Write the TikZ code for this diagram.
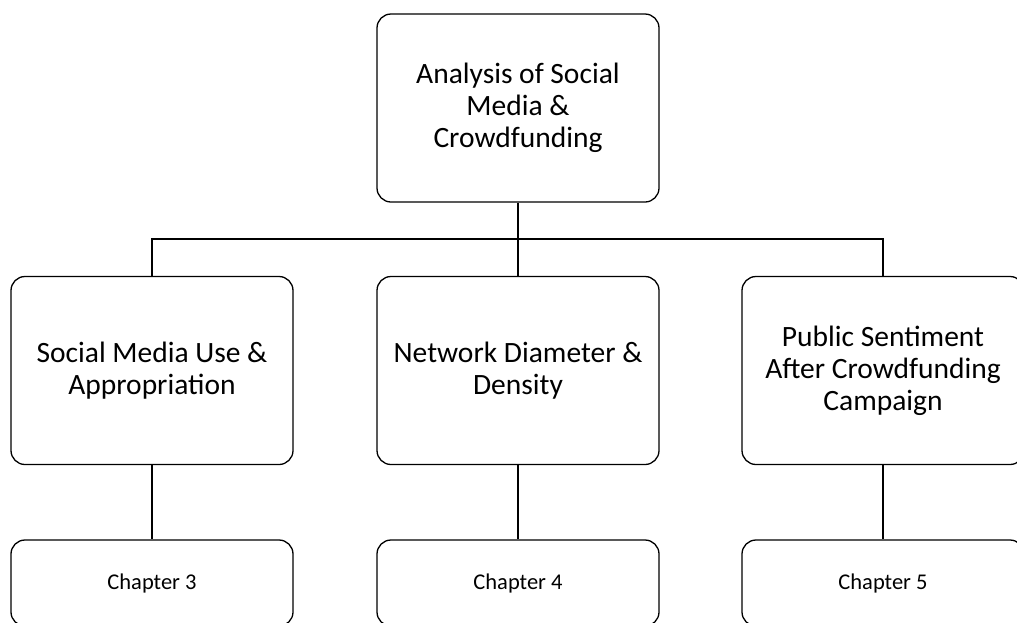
\documentclass[tikz,border=0pt]{standalone}
\usepackage{fontspec}
\setmainfont{Carlito}
\begin{document}
\begin{tikzpicture}[x=1pt,y=-1pt,
  box/.style={draw=black,line width=1.3pt,rounded corners=14pt,minimum width=282pt,align=center,inner sep=0pt},
  bigbox/.style={box,minimum height=188pt,font=\fontsize{29.5}{32}\selectfont},
  chapbox/.style={box,minimum height=86pt,font=\fontsize{22.5}{26}\selectfont},
  link/.style={draw=black,line width=1.3pt}]
\useasboundingbox (0,0) rectangle (1017,622);
\clip (0,0) rectangle (1017,622);
\node[bigbox] (top) at (518,108) {Analysis of Social\\Media \&\\Crowdfunding};
\node[bigbox] (m1) at (152,370.5) {Social Media Use \&\\Appropriation};
\node[bigbox] (m2) at (518,370.5) {Network Diameter \&\\Density};
\node[bigbox] (m3) at (883,370.5) {Public Sentiment\\After Crowdfunding\\Campaign};
\node[chapbox] (c1) at (152,583) {Chapter 3};
\node[chapbox] (c2) at (518,583) {Chapter 4};
\node[chapbox] (c3) at (883,583) {Chapter 5};
\coordinate (j) at (518,239);
\draw[link] (top.south) -- (j);
\draw[link] (m1.north) |- (j) -| (m3.north);
\draw[link] (j) -- (m2.north);
\draw[link] (m1.south) -- (c1.north);
\draw[link] (m2.south) -- (c2.north);
\draw[link] (m3.south) -- (c3.north);
\end{tikzpicture}
\end{document}
